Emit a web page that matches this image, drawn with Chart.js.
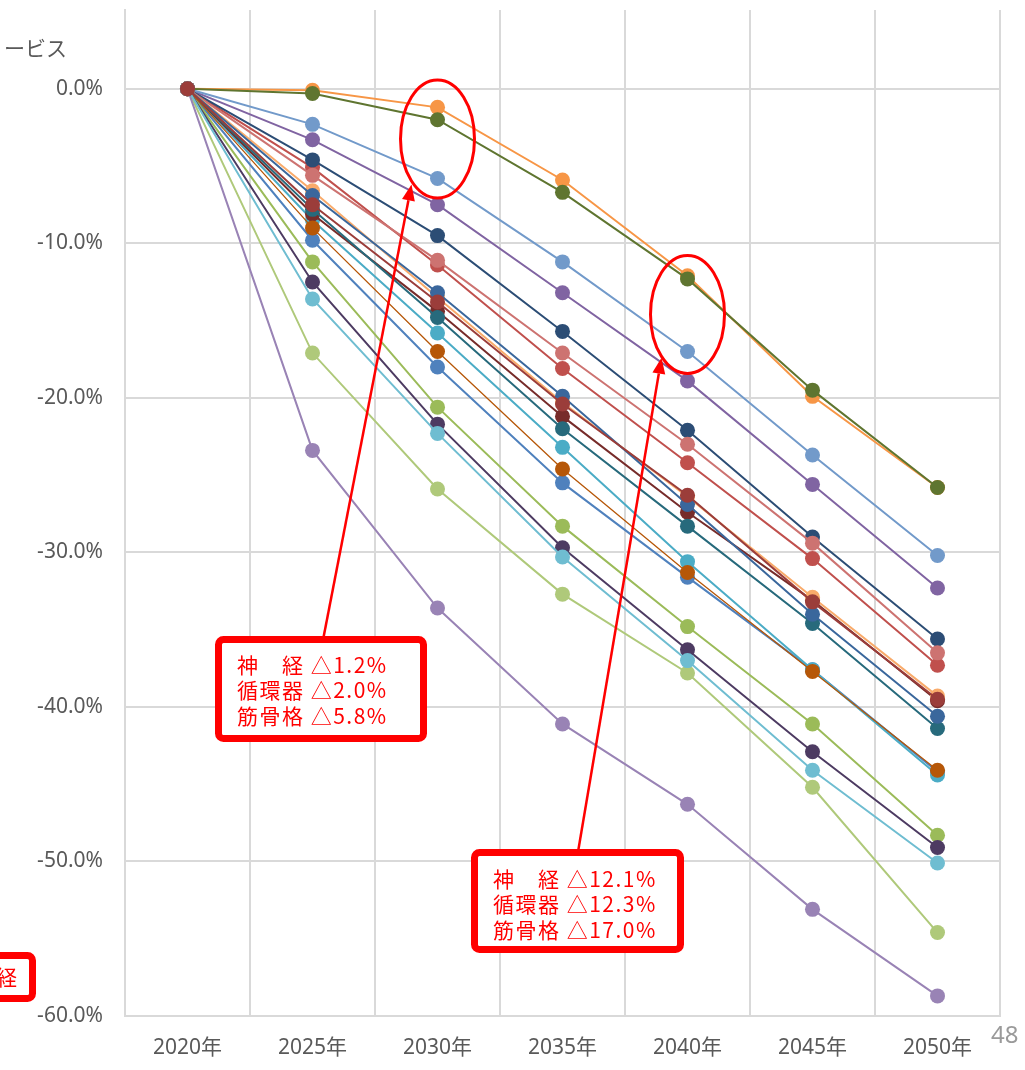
<!DOCTYPE html>
<html>
<head>
<meta charset="utf-8">
<script src="https://cdn.jsdelivr.net/npm/chart.js@4.4.1/dist/chart.umd.min.js"></script>
<style>
  html, body { margin: 0; padding: 0; background: #fff; }
  #wrap { position: relative; width: 1025px; height: 1070px; }
</style>
</head>
<body>
<div id="wrap"><canvas id="chart"></canvas></div>
<script>
// Projected change (%) from 2020, one line per series, Excel-style palette order.
const years = ['2020年', '2025年', '2030年', '2035年', '2040年', '2045年', '2050年'];
const yTicks = [0, -10, -20, -30, -40, -50, -60];

const sBlue       = [0,  -9.8, -18.0, -25.5, -31.6, -37.6, -44.2];
const sRed        = [0,  -5.1, -11.4, -18.1, -24.2, -30.4, -37.3];
const sGreen      = [0, -11.2, -20.6, -28.3, -34.8, -41.1, -48.3];
const sPurple     = [0,  -3.3,  -7.5, -13.2, -18.9, -25.6, -32.3];
const sAqua       = [0,  -8.5, -15.8, -23.2, -30.6, -37.6, -44.4];
const sOrange     = [0,  -0.1,  -1.2,  -5.9, -12.1, -19.9, -25.8];
const sNavy       = [0,  -4.6,  -9.5, -15.7, -22.1, -29.0, -35.6];
const sMaroon     = [0,  -8.1, -14.4, -21.2, -27.4, -33.1, -39.6];
const sOlive      = [0,  -0.3,  -2.0,  -6.7, -12.3, -19.5, -25.8];
const sPlum       = [0, -12.5, -21.7, -29.7, -36.3, -42.9, -49.1];
const sTeal       = [0,  -7.8, -14.8, -22.0, -28.3, -34.6, -41.4];
const sRust       = [0,  -9.0, -17.0, -24.6, -31.3, -37.7, -44.1];
const sSky        = [0,  -2.3,  -5.8, -11.2, -17.0, -23.7, -30.2];
const sRose       = [0,  -5.6, -11.1, -17.1, -23.0, -29.4, -36.5];
const sLime       = [0, -17.1, -25.9, -32.7, -37.8, -45.2, -54.6];
const sLavender   = [0, -23.4, -33.6, -41.1, -46.3, -53.1, -58.7];
const sIce        = [0, -13.6, -22.3, -30.3, -37.0, -44.1, -50.1];
const sPeach      = [0,  -6.6, -13.5, -20.3, -26.4, -32.9, -39.3];
const sSteel      = [0,  -6.9, -13.2, -19.9, -26.9, -34.0, -40.6];
const sBrick      = [0,  -7.5, -13.8, -20.4, -26.3, -33.2, -39.5];

const seriesData = [sBlue, sRed, sGreen, sPurple, sAqua, sOrange, sNavy, sMaroon, sOlive, sPlum,
                    sTeal, sRust, sSky, sRose, sLime, sLavender, sIce, sPeach, sSteel, sBrick];
const seriesColors = ['#4F81BD', '#C0504D', '#9BBB59', '#8064A2', '#4BACC6', '#F79646',
                      '#2C4D75', '#772C2A', '#5F7530', '#4D3B62', '#276A7C', '#B65708',
                      '#729ACA', '#CD7371', '#AFC97A', '#9983B5', '#6FBDD1', '#F9AB6B',
                      '#3A679C', '#9B3D3A'];

// callout texts
const note1 = ['神　経 △1.2%', '循環器 △2.0%', '筋骨格 △5.8%'];
const note2 = ['神　経 △12.1%', '循環器 △12.3%', '筋骨格 △17.0%'];

const RED = '#ff0000';
const FONT = '"Noto Sans", "Noto Sans CJK JP", sans-serif';
const JP = '"Noto Sans CJK JP", sans-serif';

function roundBox(ctx, x0, y0, x1, y1, r) {
    ctx.beginPath();
    ctx.roundRect(x0, y0, x1 - x0, y1 - y0, r);
    ctx.fillStyle = '#fff';
    ctx.fill();
    ctx.lineWidth = 7;
    ctx.strokeStyle = RED;
    ctx.stroke();
}

function arrow(ctx, x0, y0, x1, y1) {
    const ang = Math.atan2(y1 - y0, x1 - x0);
    const head = 16, half = 6.5;
    const bx = x1 - head * Math.cos(ang), by = y1 - head * Math.sin(ang);
    ctx.beginPath();
    ctx.moveTo(x0, y0);
    ctx.lineTo(bx, by);
    ctx.lineWidth = 2.5;
    ctx.strokeStyle = RED;
    ctx.stroke();
    ctx.beginPath();
    ctx.moveTo(x1, y1);
    ctx.lineTo(bx + half * Math.sin(ang), by - half * Math.cos(ang));
    ctx.lineTo(bx - half * Math.sin(ang), by + half * Math.cos(ang));
    ctx.closePath();
    ctx.fillStyle = RED;
    ctx.fill();
}

function noteText(ctx, lines, x, y) {
    ctx.fillStyle = RED;
    ctx.font = '21px ' + JP;
    ctx.textAlign = 'left';
    ctx.textBaseline = 'middle';
    ctx.letterSpacing = '1.5px';
    lines.forEach((t, i) => ctx.fillText(t, x, y + i * 25.5));
    ctx.letterSpacing = '0px';
}

const callouts = {
    id: 'callouts',
    afterDraw(chart) {
        const { ctx, scales: { x, y } } = chart;
        ctx.save();
        // ellipses round the 2030 and 2040 top points
        ctx.lineWidth = 3;
        ctx.strokeStyle = RED;
        ctx.beginPath();
        ctx.ellipse(x.getPixelForValue(2), y.getPixelForValue(-3.25), 37, 59, 0, 0, Math.PI * 2);
        ctx.stroke();
        ctx.beginPath();
        ctx.ellipse(x.getPixelForValue(4), y.getPixelForValue(-14.6), 37, 59, 0, 0, Math.PI * 2);
        ctx.stroke();

        arrow(ctx, 323, 640, x.getPixelForValue(2) - 26, y.getPixelForValue(-6.2));
        arrow(ctx, 578, 852, x.getPixelForValue(4) - 26, y.getPixelForValue(-17.4));

        roundBox(ctx, 218.5, 639.5, 423.5, 738.5, 5);
        noteText(ctx, note1, 237, 665);
        roundBox(ctx, 474.5, 852.5, 680.5, 949.5, 5);
        noteText(ctx, note2, 493, 879);

        // pieces of the slide cut off at the edges
        roundBox(ctx, -60, 955.5, 32.5, 998.5, 5);
        ctx.fillStyle = RED;
        ctx.font = '21px ' + JP;
        ctx.textBaseline = 'middle';
        ctx.textAlign = 'left';
        ctx.fillText('経', -4, 977);

        ctx.fillStyle = '#595959';
        ctx.font = '21px ' + JP;
        ctx.textAlign = 'right';
        ctx.fillText('ービス', 67, 48);

        ctx.fillStyle = '#9a9a9a';
        ctx.font = '24px ' + FONT;
        ctx.textAlign = 'left';
        ctx.fillText('48', 991, 1036);
        ctx.restore();
    }
};

const N = seriesData.length;
const datasets = seriesData.map((d, i) => ({
    label: 'S' + (i + 1),
    data: d,
    borderColor: seriesColors[i],
    backgroundColor: seriesColors[i],
    borderWidth: i === 11 ? 1.3 : 2,
    pointRadius: 7.5,
    pointHoverRadius: 7.5,
    pointBorderWidth: 0,
    tension: 0,
    order: N - i   // later series drawn on top, like Excel
}));

Chart.defaults.color = '#595959';
Chart.defaults.font.family = FONT;

new Chart(document.getElementById('chart'), {
    type: 'line',
    data: { labels: years, datasets },
    options: {
        responsive: true,
        maintainAspectRatio: false,
        animation: false,
        layout: { padding: { top: 10, right: 25, left: 0, bottom: 0 } },
        plugins: { legend: { display: false }, tooltip: { enabled: false } },
        scales: {
            x: {
                offset: true,
                grid: { offset: true, color: '#d9d9d9', lineWidth: 2, drawTicks: false },
                border: { color: '#d9d9d9', width: 2 },
                ticks: { font: { size: 21 }, padding: 19, maxRotation: 0 },
                afterFit: s => { s.height = 54; }
            },
            y: {
                min: -60, max: 5.1,
                grid: { color: '#d9d9d9', lineWidth: 2, drawTicks: false },
                border: { color: '#d9d9d9', width: 2 },
                ticks: { stepSize: 10, padding: 22, font: { size: 21 },
                         callback: v => v.toFixed(1) + '%' },
                afterBuildTicks: s => { s.ticks = yTicks.map(v => ({ value: v })); },
                afterFit: s => { s.width = 125; s.paddingTop = 0; s.paddingBottom = 0; }
            }
        }
    },
    plugins: [callouts]
});
</script>
</body>
</html>
